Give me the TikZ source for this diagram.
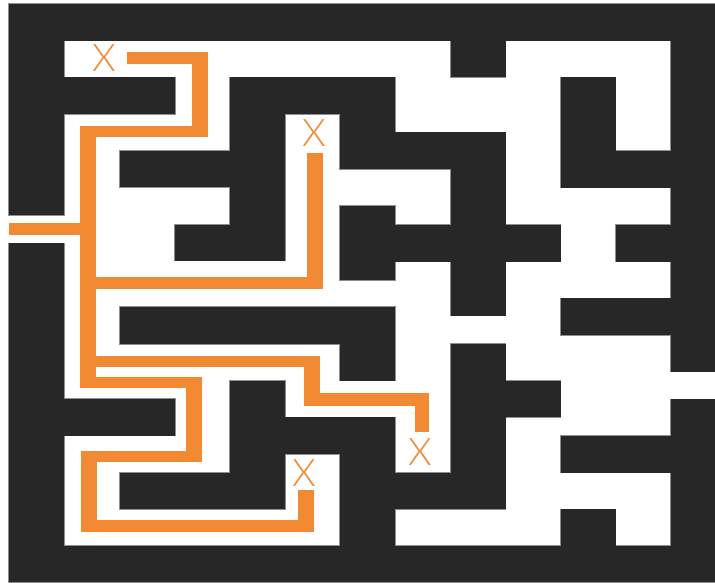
\documentclass[tikz,border=0pt]{standalone}
\usepackage{fontspec}
\newfontfamily\xfont{Lato Light}
\definecolor{wallc}{HTML}{272727}
\definecolor{pathc}{HTML}{F18A33}
\definecolor{edgec}{HTML}{8E8E8E}
\tikzset{
  wallfill/.style={fill=wallc},
  walledge/.style={fill=wallc, draw=edgec, line width=1.3pt},
  trail/.style={fill=pathc},
  mark x/.style={text=pathc, inner sep=0pt, font=\xfont\fontsize{38}{38}\selectfont}
}
\begin{document}
\begin{tikzpicture}[x=1pt,y=-1pt]
\def\mazewalls{9/4/715/40.7, 9/4/64.3/215, 9/243.3/64.3/582, 9/546/715/582,
  670.7/4/715/371.7, 670.7/399.3/715/582,
  64.3/77.3/175/114, 230/77.3/395/114, 230/77.3/285/260.7,
  120/150.7/230/187.3, 175/224.5/230/260.7, 340/77.3/395/169.3,
  340/132.3/505.7/169.3, 450.7/132.3/505.7/315.7, 340/206/395/280,
  395/224.5/450.7/261.7, 505.7/224.5/560.7/261.7, 450.7/40.7/505.7/77.3,
  560.7/77.3/615.7/187.7, 615.7/151/670.7/187.7, 615.7/224.5/670.7/261.7,
  560.7/298.3/670.7/335, 120/307/395/344, 340/344/395/380.7,
  64.3/399/175/435.7, 230/380.7/285/472.7, 285/417.3/395/454,
  120/472.7/285/509.3, 340/417.3/395/546, 395/472.7/505.7/509.3,
  450.7/344/505.7/509.3, 505.7/380.7/560.7/417.3, 560.7/436/670.7/472.7,
  560.7/509.3/615.7/546}
\def\trailrects{127.3/52.3/208.3/64, 191.7/52.3/208.3/137.3, 81/126/208.3/137.3,
  80/126/96/387.7, 9/223.3/96/234.7,
  96/276.7/322.7/288.5, 306.7/152.7/322.7/288.5,
  96/356/320/366.7, 304/356/320/405.7, 304/393.3/429/405.7, 415/393.3/429/431.7,
  80/377.3/201.7/387.7, 185.7/377.3/201.7/461.7, 81/451/201.7/461.7,
  81/451/96.7/531.7, 81/520/314/531.7, 297.7/490/314/531.7}
\useasboundingbox (0,0) rectangle (715,582);
\fill[white] (0,0) rectangle (715,582);
\foreach \a/\b/\c/\d in \mazewalls { \path[walledge] (\a,\b) rectangle (\c,\d); }
\foreach \a/\b/\c/\d in \mazewalls { \path[wallfill] (\a,\b) rectangle (\c,\d); }
\foreach \a/\b/\c/\d in \trailrects { \path[trail] (\a,\b) rectangle (\c,\d); }
\node[mark x] (x1) at (104,58.5) {X};
\node[mark x] (x2) at (314,132.7) {X};
\node[mark x] (x3) at (420,451.7) {X};
\node[mark x] (x4) at (304.3,472.7) {X};
\end{tikzpicture}
\end{document}
